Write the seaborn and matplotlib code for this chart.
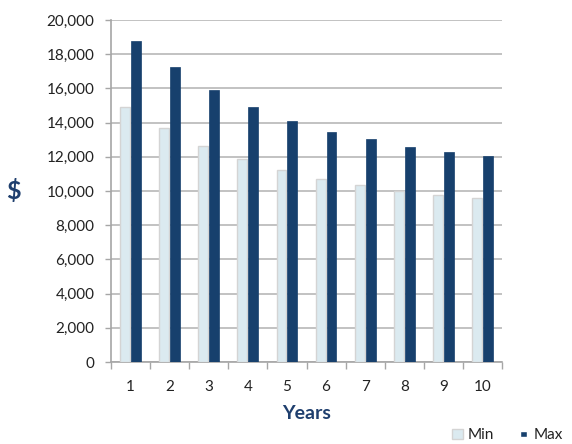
import numpy as np
import pandas as pd
import matplotlib
matplotlib.use("Agg")
import matplotlib.pyplot as plt
import seaborn as sns
from matplotlib.ticker import FuncFormatter, FixedLocator

years = [1, 2, 3, 4, 5, 6, 7, 8, 9, 10]
min_vals = [14900, 13700, 12650, 11850, 11200, 10720, 10330, 10000, 9780, 9600]
max_vals = [18750, 17230, 15900, 14900, 14100, 13470, 13020, 12600, 12300, 12050]
series_names = ["Min", "Max"]

df = pd.DataFrame({
    "Years": [str(y) for y in years] * 2,
    "Value": min_vals + max_vals,
    "Series": [series_names[0]] * len(years) + [series_names[1]] * len(years),
})

sns.set_theme(style="white")
plt.rcParams['font.family'] = ['Lato', 'DejaVu Sans']

fig = plt.figure(figsize=(5.72, 4.44), dpi=100)
ax = fig.add_axes([111 / 572, 1 - 362 / 444, 391 / 572, 342 / 444])

palette = {"Min": "#dbeaf0", "Max": "#17406d"}
sns.barplot(data=df, x="Years", y="Value", hue="Series", palette=palette,
            width=0.56, gap=0.1, ax=ax, saturation=1, legend=True, zorder=3)

for patch in ax.containers[0]:
    patch.set_edgecolor("#d4d4d4")
    patch.set_linewidth(1.0)
for patch in ax.containers[1]:
    patch.set_edgecolor("#17406d")
    patch.set_linewidth(0.5)

ax.set_ylim(0, 20000)
ax.set_xlim(-0.5, 9.5)
ax.set_yticks(np.arange(0, 20001, 2000))
ax.yaxis.set_major_formatter(FuncFormatter(lambda v, p: f"{int(v):,}"))
ax.yaxis.grid(True, color="#b8b8b8", linewidth=1.2, zorder=0)
ax.set_axisbelow(True)

ax.xaxis.set_minor_locator(FixedLocator(np.arange(-0.5, 10, 1)))
ax.tick_params(axis="x", which="major", length=0, pad=13, labelsize=11, colors="#222222")
ax.tick_params(axis="x", which="minor", length=5, width=1, color="#a6a6a6", direction="out")
ax.tick_params(axis="y", which="major", length=4, width=1, color="#a6a6a6",
               direction="out", labelsize=11, colors="#222222", pad=8)
ax.tick_params(axis="both", bottom=True, left=True)
ax.tick_params(axis="x", which="minor", bottom=True)

for s in ["top", "right"]:
    ax.spines[s].set_visible(False)
for s in ["left", "bottom"]:
    ax.spines[s].set_color("#a6a6a6")
    ax.spines[s].set_linewidth(1.2)

ax.set_xlabel("Years", fontsize=14, fontweight="bold", color="#1f3f6e", labelpad=8)
ax.set_ylabel("$", fontsize=18, fontweight="bold", color="#1f3f6e", rotation=0, labelpad=24, va="center")

leg = ax.legend(loc="lower left", bbox_to_anchor=((452 - 111) / 391, -0.235), ncol=2, frameon=False,
                borderpad=0, borderaxespad=0,
                fontsize=11, handlelength=0.7, handleheight=0.7, handletextpad=0.3,
                columnspacing=1.6, labelcolor="#222222")
hp = leg.get_patches()
hp[0].set_edgecolor("#d4d4d4")
x, y, w, h = hp[1].get_x(), hp[1].get_y(), hp[1].get_width(), hp[1].get_height()
nw = w * 0.6
hp[1].set_bounds(x + (w - nw) / 2, y + (h - nw) / 2, nw, nw)

fig.savefig("out.png", dpi=100)
